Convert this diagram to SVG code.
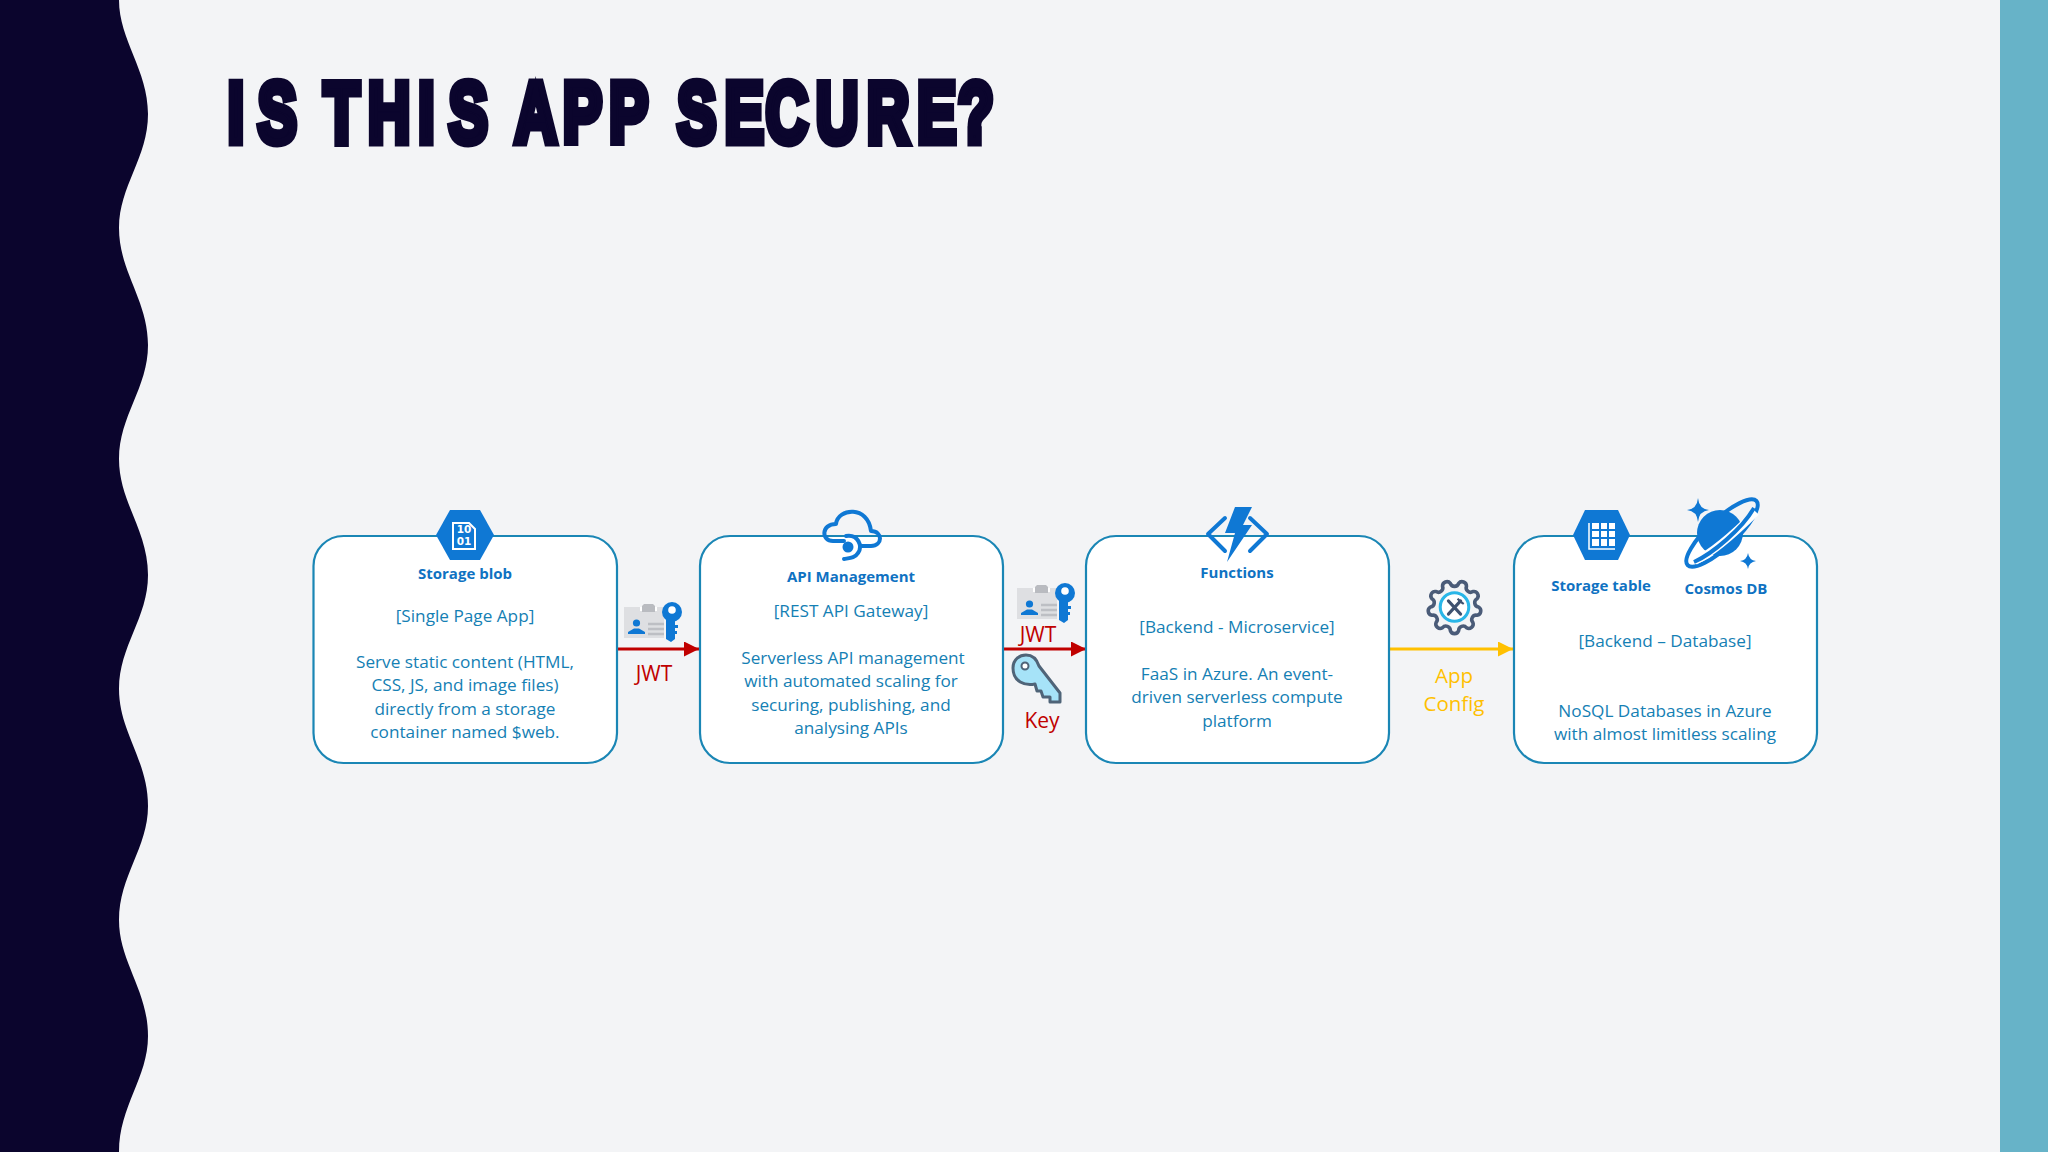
<svg xmlns="http://www.w3.org/2000/svg" xmlns:xlink="http://www.w3.org/1999/xlink" width="2048" height="1152" viewBox="0 0 2048 1152">
<style>
text{font-family:"Open Sans","Noto Sans","Liberation Sans",sans-serif}
.box{fill:#fff;stroke:#1A86B5;stroke-width:2.2}
.t{font-size:17.2px;fill:#1580B4;text-anchor:middle}
.h{font-size:15px;font-weight:700;fill:#0F72C2;text-anchor:middle}
.r{font-size:21px;fill:#C00000;text-anchor:middle}
.y{font-size:20.5px;fill:#FFC000;text-anchor:middle}
.blue{fill:#0F78D4}
.ol{fill:none;stroke:#0F78D4;stroke-width:4;stroke-linecap:round;stroke-linejoin:round}
</style>
<defs>
<marker id="ar" markerUnits="userSpaceOnUse" markerWidth="15" markerHeight="15" refX="15" refY="7.5" orient="auto"><path d="M0,0L15,7.5L0,15Z" fill="#C00000"/></marker>
<marker id="ay" markerUnits="userSpaceOnUse" markerWidth="15" markerHeight="15" refX="15" refY="7.5" orient="auto"><path d="M0,0L15,7.5L0,15Z" fill="#FFC000"/></marker>
<g id="badge">
<rect x="624" y="607" width="40" height="31" fill="#DEDFE2"/>
<rect x="640" y="607" width="17" height="4" fill="#fff"/>
<path d="M642,612V606L644,604H653L655,606V612Z" fill="#B9BBC0"/>
<circle cx="636.500" cy="623" r="3.600" fill="#0F78D4"/>
<path d="M628,634V632L634,628.500H639L645,632V634Z" fill="#0F78D4"/>
<path d="M648,624H664M648,629H664M648,634H664" stroke="#BDBFC4" stroke-width="2.500"/>
<circle cx="672" cy="612" r="10" fill="#0F78D4"/>
<rect x="666" y="616" width="9" height="22" fill="#0F78D4"/>
<path d="M666,636H675V639L671,642L666,639ZM674,625H678V628H674ZM674,631H677V634H674Z" fill="#0F78D4"/>
<circle cx="672" cy="610" r="3.800" fill="#fff"/>
</g>
</defs>
<rect id="background" width="2048" height="1152" fill="#F3F4F6"/>
<path id="wave" fill="#0B052D" d="M0,0H119C119,40 148,70 148,114C148,158 119,186 119,228C119,272 148,300 148,345C148,388 119,416 119,459C119,502 148,530 148,575C148,618 119,646 119,689C119,732 148,760 148,806C148,848 119,876 119,920C119,962 148,990 148,1036C148,1078 119,1106 119,1152H0Z"/>
<rect id="right-bar" x="2000" y="0" width="48" height="1152" fill="#67B3C8"/>
<text id="title" transform="scale(0.68,1)" y="142.500" font-size="86" font-weight="700" fill="#0B052D" stroke="#0B052D" stroke-width="9" stroke-linejoin="miter" style="font-family:'Liberation Sans',Arial,sans-serif" x="335 379 430 476 541 615 660 730 757 828 896 960 996 1066 1126 1200 1275 1349 1409">IS THIS APP SECURE?</text>

<g id="connectors">
<line x1="617" y1="649" x2="699" y2="649" stroke="#C00000" stroke-width="3" marker-end="url(#ar)"/>
<line x1="1003" y1="649" x2="1086" y2="649" stroke="#C00000" stroke-width="3" marker-end="url(#ar)"/>
<line x1="1389" y1="649" x2="1513" y2="649" stroke="#FFC000" stroke-width="3" marker-end="url(#ay)"/>
</g>

<g id="node-storage-blob">
<rect class="box" x="313.500" y="536" width="303.500" height="227" rx="30"/>
<path class="blue" d="M450,510H480L494,535L480,560H450L436,535Z"/>
<path d="M453,523H469L475,529V549H453Z" fill="none" stroke="#fff" stroke-width="2"/>
<text x="464" y="533" font-size="10.500" font-weight="700" fill="#fff" text-anchor="middle" style="font-family:'DejaVu Sans',sans-serif">10</text>
<text x="464" y="545" font-size="10.500" font-weight="700" fill="#fff" text-anchor="middle" style="font-family:'DejaVu Sans',sans-serif">01</text>
<text class="h" x="465" y="579">Storage blob</text>
<text class="t" x="465" y="622">[Single Page App]</text>
<text class="t" x="465" y="668">Serve static content (HTML,</text>
<text class="t" x="465" y="691">CSS, JS, and image files)</text>
<text class="t" x="465" y="715">directly from a storage</text>
<text class="t" x="465" y="738">container named $web.</text>
</g>

<g id="node-api-management">
<rect class="box" x="700" y="536" width="303" height="227" rx="30"/>
<path class="ol" d="M844,541H833C821,541 821,524 836,524C838,508 868,505 871,531C883,531 883,546 871,546H860"/>
<path class="ol" d="M846,536C858,534 863,546 858,553C855,558 850,558 844,559"/>
<circle class="blue" cx="848" cy="547" r="5.500"/>
<text class="h" x="851" y="582">API Management</text>
<text class="t" x="851" y="617">[REST API Gateway]</text>
<text class="t" x="853" y="664">Serverless API management</text>
<text class="t" x="851" y="687">with automated scaling for</text>
<text class="t" x="851" y="711">securing, publishing, and</text>
<text class="t" x="851" y="734">analysing APIs</text>
</g>

<g id="node-functions">
<rect class="box" x="1086" y="536" width="303" height="227" rx="30"/>
<path class="blue" d="M1235,507H1252L1243,525H1252L1227,562L1235,533H1225Z"/>
<path class="ol" d="M1225,518L1208,534L1225,551M1250,518L1267,534L1250,551"/>
<text class="h" x="1237" y="578">Functions</text>
<text class="t" x="1237" y="633">[Backend - Microservice]</text>
<text class="t" x="1237" y="680">FaaS in Azure. An event-</text>
<text class="t" x="1237" y="703">driven serverless compute</text>
<text class="t" x="1237" y="727">platform</text>
</g>

<g id="node-database">
<rect class="box" x="1514" y="536" width="303" height="227" rx="30"/>
<path class="blue" d="M1585,510H1618L1630,535L1618,560H1585L1573,535Z"/>
<path d="M1589,523V549H1615" fill="none" stroke="#fff" stroke-width="1.500"/>
<path fill="#fff" d="M1592,523h7v6h-7zM1601,523h6v6h-6zM1609,523h6v6h-6zM1592,531h7v6h-7zM1601,531h6v6h-6zM1609,531h6v6h-6zM1592,539h7v7h-7zM1601,539h6v7h-6zM1609,539h6v7h-6z"/>
<ellipse cx="1722" cy="533" rx="47" ry="14" transform="rotate(-43 1722 533)" fill="none" stroke="#0F78D4" stroke-width="4"/>
<circle class="blue" cx="1720" cy="533" r="23"/>
<path d="M1695,561C1712,553 1738,530 1756,512" fill="none" stroke="#fff" stroke-width="8"/>
<path d="M1694,562C1712,554 1742,529 1754,508" fill="none" stroke="#0F78D4" stroke-width="4"/>
<path class="blue" d="M1698,498Q1699,509 1709,510Q1699,511 1698,522Q1697,511 1687,510Q1697,509 1698,498Z"/>
<path class="blue" d="M1748,553Q1749,560 1756,561Q1749,562 1748,569Q1747,562 1740,561Q1747,560 1748,553Z"/>
<text class="h" x="1601" y="591">Storage table</text>
<text class="h" x="1726" y="594">Cosmos DB</text>
<text class="t" x="1665" y="647">[Backend – Database]</text>
<text class="t" x="1665" y="717">NoSQL Databases in Azure</text>
<text class="t" x="1665" y="740">with almost limitless scaling</text>
</g>

<g id="label-jwt-1">
<use xlink:href="#badge" href="#badge"/>
<text class="r" x="654" y="681">JWT</text>
</g>
<g id="label-jwt-2">
<use xlink:href="#badge" href="#badge" transform="translate(393,-19)"/>
<text class="r" x="1038" y="642">JWT</text>
</g>
<g id="label-key">
<path d="M1013,668C1013,659 1020,655 1026,655C1034,655 1037,660 1039,666L1060,693V702H1050V697H1043L1041,691H1037L1035,684C1025,686 1013,682 1013,668Z" fill="#A6E3F8" stroke="#4F6478" stroke-width="3" stroke-linejoin="round"/>
<circle cx="1025" cy="666" r="3.500" fill="#fff" stroke="#4F6478" stroke-width="2"/>
<text class="r" x="1042" y="728">Key</text>
</g>
<g id="label-app-config">
<g transform="translate(1454.500,607) scale(1.02) translate(-1454,-604)">
<path fill="none" stroke="#4A5B78" stroke-width="3.500" d="M1477.5,604A4.3,4.3 0 0 1 1476.08,612.04A4.3,4.3 0 0 0 1472,619.11A4.3,4.3 0 0 1 1465.75,624.35A4.3,4.3 0 0 0 1458.08,627.14A4.3,4.3 0 0 1 1449.92,627.14A4.3,4.3 0 0 0 1442.25,624.35A4.3,4.3 0 0 1 1436,619.11A4.3,4.3 0 0 0 1431.92,612.04A4.3,4.3 0 0 1 1430.5,604A4.3,4.3 0 0 0 1431.92,595.96A4.3,4.3 0 0 1 1436,588.89A4.3,4.3 0 0 0 1442.25,583.65A4.3,4.3 0 0 1 1449.92,580.86A4.3,4.3 0 0 0 1458.08,580.86A4.3,4.3 0 0 1 1465.75,583.65A4.3,4.3 0 0 0 1472,588.89A4.3,4.3 0 0 1 1476.08,595.96A4.3,4.3 0 0 0 1477.5,604Z"/>
<circle cx="1454" cy="604" r="14" fill="#fff" stroke="#29B6E8" stroke-width="3"/>
<path d="M1448,598L1460,611M1460,598L1448,611" stroke="#3F5270" stroke-width="3" stroke-linecap="round"/>
<path d="M1457,596L1463,601L1460,599Z" fill="none" stroke="#3F5270" stroke-width="2"/>
</g>
<text class="y" x="1454" y="683">App</text>
<text class="y" x="1454" y="711">Config</text>
</g>
</svg>
